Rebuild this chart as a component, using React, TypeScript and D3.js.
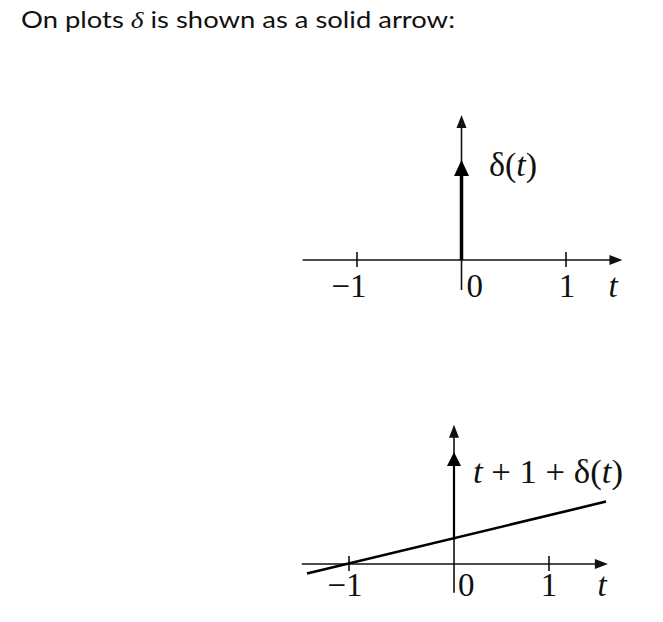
import React from "react";
import * as d3 from "d3";

// tick values and their printed labels
const tickValues = [-1, 0, 1];
const tickLabels = ["\u22121", "0", "1"];

// top plot: delta(t) alone
const topAxisT = [-1.52, 1.54];
const topAxisY = [-1.2, 5.8];
const topDeltaT = [0];
const topDeltaFrom = [0];
const topDeltaTo = [4];

// bottom plot: ramp t+1 plus delta(t)
const botAxisT = [-1.45, 1.62];
const botAxisY = [-1.2, 5.8];
const rampT = [-1.4, 1.6];
const rampV = [-0.4, 2.6];
const botDeltaT = [0];
const botDeltaFrom = [1];
const botDeltaTo = [4.67];

const SERIF = "'Liberation Serif', 'DejaVu Serif', serif";
const FS = 33;
const MATH_FS = 34;

function arrowHead(tipX: number, tipY: number, dir: "up" | "right", len: number, half: number) {
  if (dir === "up") {
    return `M${tipX},${tipY}L${tipX - half},${tipY + len}L${tipX + half},${tipY + len}Z`;
  }
  return `M${tipX},${tipY}L${tipX - len},${tipY - half}L${tipX - len},${tipY + half}Z`;
}

type PlotProps = {
  x: d3.ScaleLinear<number, number>;
  y: d3.ScaleLinear<number, number>;
  axisT: number[];
  axisY: number[];
  labelDx: number[];
  labelAnchor: string[];
  labelBase: number;
  tLabelX: number;
};

function Axes({ x, y, axisT, axisY, labelDx, labelAnchor, labelBase, tLabelX }: PlotProps) {
  const y0 = y(0);
  const x0 = x(0);
  const xEnd = x(axisT[1]);
  const yTop = y(axisY[1]);
  return (
    <g>
      <line x1={x(axisT[0])} x2={xEnd - 8} y1={y0} y2={y0} stroke="#111" strokeWidth={1.6} />
      <path d={arrowHead(xEnd, y0, "right", 13, 5)} fill="#111" />
      <line x1={x0} x2={x0} y1={y(axisY[0])} y2={yTop + 8} stroke="#111" strokeWidth={1.6} />
      <path d={arrowHead(x0, yTop, "up", 13, 5)} fill="#111" />
      {tickValues.map((v, i) =>
        v === 0 ? null : (
          <line key={"tk" + i} x1={x(v)} x2={x(v)} y1={y0 - 8} y2={y0 + 7} stroke="#111" strokeWidth={1.6} />
        )
      )}
      {tickValues.map((v, i) => (
        <text
          key={"tl" + i}
          x={x(v) + labelDx[i]}
          y={labelBase}
          textAnchor={labelAnchor[i] as any}
          fontFamily={SERIF}
          fontSize={FS}
          fill="#111"
        >
          {tickLabels[i]}
        </text>
      ))}
      <text x={tLabelX} y={labelBase} textAnchor="middle" fontFamily={SERIF} fontStyle="italic" fontSize={FS} fill="#111">
        t
      </text>
    </g>
  );
}

export default function App() {
  const xTop = d3.scaleLinear().domain([-1, 1]).range([357, 566]);
  const yTop = d3.scaleLinear().domain([0, 1]).range([260, 235]);

  const xBot = d3.scaleLinear().domain([-1, 0, 1]).range([349, 454, 549]);
  const yBot = d3.scaleLinear().domain([0, 1]).range([564, 540]);

  const ramp = d3
    .line<number>()
    .x((_, i) => xBot(rampT[i]))
    .y((_, i) => yBot(rampV[i]));

  return (
    <svg
      width={663}
      height={622}
      style={{ position: "absolute", left: 0, top: 0, background: "#fff" }}
    >
      <text x={21} y={28} fontFamily="Lato, 'Liberation Sans', sans-serif" fontSize={24} fill="#111" textLength={434} lengthAdjust="spacingAndGlyphs">
        On plots <tspan fontFamily={SERIF} fontStyle="italic">δ</tspan> is shown as a solid arrow:
      </text>

      {/* top plot */}
      <Axes
        x={xTop}
        y={yTop}
        axisT={topAxisT}
        axisY={topAxisY}
        labelDx={[-8, 5, 1]}
        labelAnchor={["middle", "start", "middle"]}
        labelBase={297}
        tLabelX={613}
      />
      {topDeltaT.map((t, i) => (
        <g key={"dt" + i}>
          <line x1={xTop(t)} x2={xTop(t)} y1={yTop(topDeltaFrom[i])} y2={yTop(topDeltaTo[i]) + 14} stroke="#000" strokeWidth={3.5} />
          <path d={arrowHead(xTop(t), yTop(topDeltaTo[i]), "up", 16, 7.5)} fill="#000" />
        </g>
      ))}
      <text x={489} y={176} fontFamily={SERIF} fontSize={MATH_FS} fill="#111">
        δ(<tspan fontStyle="italic">t</tspan>)
      </text>

      {/* bottom plot */}
      <Axes
        x={xBot}
        y={yBot}
        axisT={botAxisT}
        axisY={botAxisY}
        labelDx={[-4, 4, 0]}
        labelAnchor={["middle", "start", "middle"]}
        labelBase={596}
        tLabelX={602}
      />
      <path d={ramp(rampT) || ""} fill="none" stroke="#000" strokeWidth={2.6} />
      {botDeltaT.map((t, i) => (
        <g key={"db" + i}>
          <line x1={xBot(t)} x2={xBot(t)} y1={yBot(botDeltaFrom[i])} y2={yBot(botDeltaTo[i]) + 12} stroke="#000" strokeWidth={2.2} />
          <path d={arrowHead(xBot(t), yBot(botDeltaTo[i]), "up", 14, 7)} fill="#000" />
        </g>
      ))}
      <text x={473} y={483} fontFamily={SERIF} fontSize={MATH_FS} fill="#111" textLength={150} lengthAdjust="spacingAndGlyphs">
        <tspan fontStyle="italic">t</tspan> + 1 + δ(<tspan fontStyle="italic">t</tspan>)
      </text>
    </svg>
  );
}
